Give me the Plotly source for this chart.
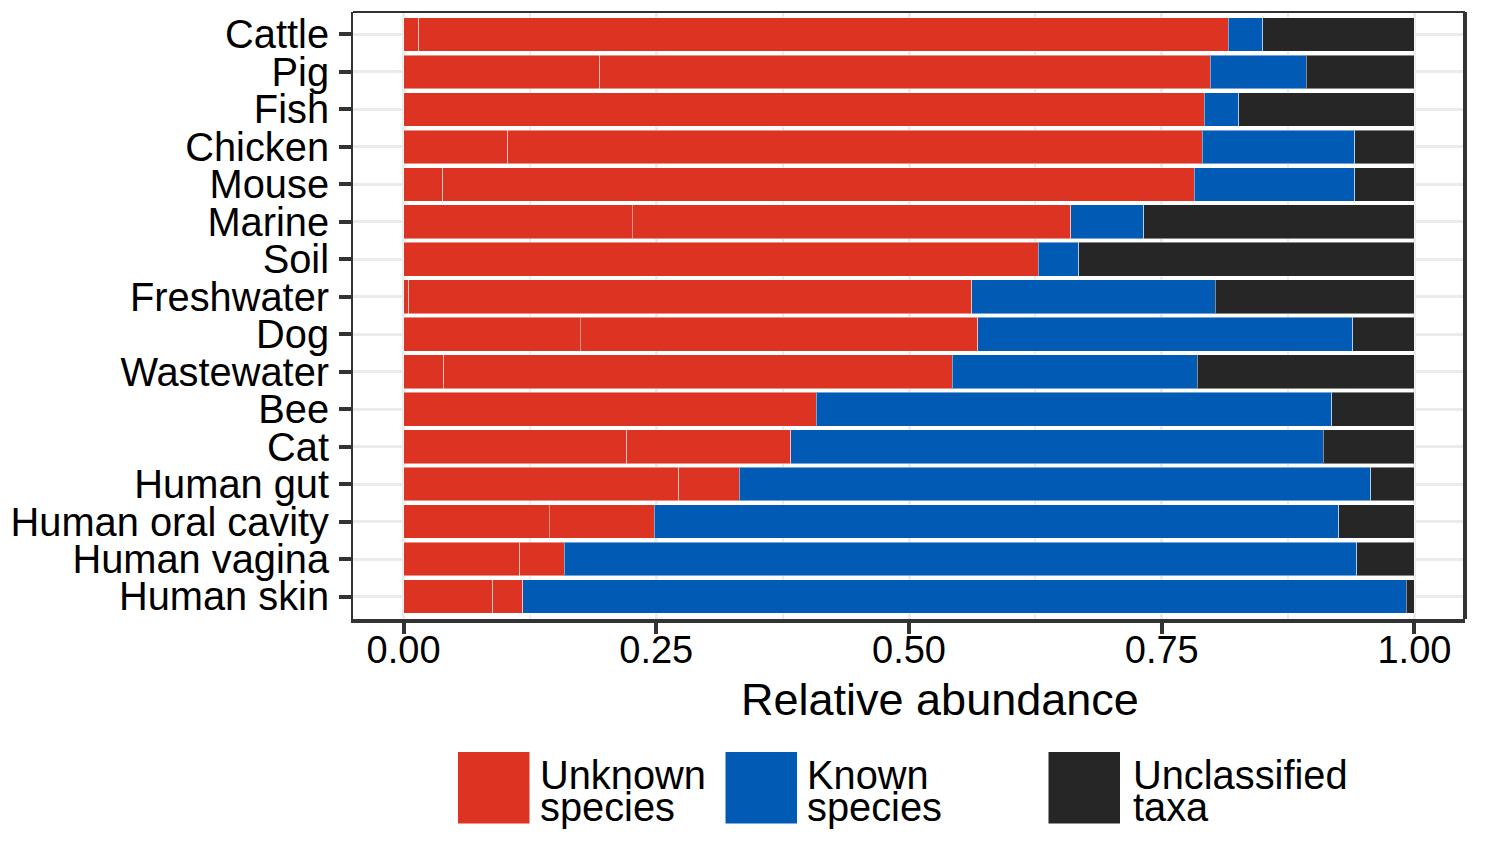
import plotly.graph_objects as go

# ---------------- data ----------------
categories = ["Cattle", "Pig", "Fish", "Chicken", "Mouse", "Marine", "Soil",
              "Freshwater", "Dog", "Wastewater", "Bee", "Cat", "Human gut",
              "Human oral cavity", "Human vagina", "Human skin"]

# Unknown species is shown as two red sub-segments
unknown_part1 = [0.015, 0.194, 0.000, 0.103, 0.039, 0.226, 0.000, 0.005,
                 0.175, 0.040, 0.000, 0.221, 0.272, 0.144, 0.115, 0.088]
unknown_part2 = [0.801, 0.604, 0.792, 0.687, 0.743, 0.434, 0.628, 0.557,
                 0.393, 0.503, 0.408, 0.162, 0.060, 0.104, 0.044, 0.030]
known = [0.034, 0.095, 0.034, 0.151, 0.159, 0.072, 0.040, 0.241,
         0.371, 0.242, 0.510, 0.527, 0.625, 0.677, 0.784, 0.874]
unclassified = [0.150, 0.107, 0.174, 0.059, 0.059, 0.268, 0.332, 0.197,
                0.061, 0.215, 0.082, 0.090, 0.043, 0.075, 0.057, 0.008]

x_ticks = [0.0, 0.25, 0.5, 0.75, 1.0]
x_tick_labels = ["0.00", "0.25", "0.50", "0.75", "1.00"]
x_title = "Relative abundance"
legend_labels = [["Unknown", "species"], ["Known", "species"], ["Unclassified", "taxa"]]

RED = "#DC3322"
BLUE = "#015BB5"
DARK = "#262626"
FONT = "Liberation Sans, Arial, Helvetica, sans-serif"

# ---------------- figure ----------------
fig = go.Figure()
outline = dict(color="rgba(255,255,255,0.45)", width=1)
for vals, col, name in [(unknown_part1, RED, "Unknown species"),
                        (unknown_part2, RED, "Unknown species"),
                        (known, BLUE, "Known species"),
                        (unclassified, DARK, "Unclassified taxa")]:
    fig.add_trace(go.Bar(y=categories, x=vals, orientation="h", name=name,
                         marker=dict(color=col, line=outline), width=0.9,
                         showlegend=False))

# The page body has an 8px margin: lay the figure out so that it fills
# the window from (8, 8) and target page pixels are converted accordingly.
OFF = 8
W, H = 1500 - OFF, 865 - OFF
L, R, T, B = 353 - OFF, 1465 - OFF, 12 - OFF, 619 - OFF
PW, PH = R - L, B - T


def px(p):
    return (p - OFF - L) / PW


def py(p):
    return (B - (p - OFF)) / PH


fig.update_layout(
    width=W, height=H,
    margin=dict(l=L, r=W - R, t=T, b=H - B, autoexpand=False),
    barmode="stack",
    bargap=0.1,
    plot_bgcolor="white",
    paper_bgcolor="white",
    font=dict(family=FONT, color="black"),
)

fig.update_xaxes(
    range=[-0.05, 1.05],
    tickmode="array", tickvals=x_ticks, ticktext=x_tick_labels,
    tickfont=dict(size=38, family=FONT, color="black"),
    ticks="outside", ticklen=11, tickwidth=4, tickcolor="#333333",
    ticklabelstandoff=-16,
    showgrid=True, gridcolor="#EBEBEB", gridwidth=3,
    minor=dict(dtick=0.125, tick0=0, showgrid=True, gridcolor="#EBEBEB", gridwidth=2, ticks=""),
    showline=True, linecolor="#333333", linewidth=3.5, mirror=False,
    zeroline=False, fixedrange=True, automargin=False,
)
fig.update_yaxes(
    type="category",
    categoryorder="array", categoryarray=categories[::-1],
    tickmode="array", tickvals=categories, ticktext=categories,
    range=[-0.6, len(categories) - 0.4],
    tickfont=dict(size=39.8, family=FONT, color="black"),
    ticks="outside", ticklen=12, tickwidth=4, tickcolor="#333333",
    ticklabelstandoff=2,
    showgrid=True, gridcolor="#EBEBEB", gridwidth=3,
    showline=True, linecolor="#333333", linewidth=2, mirror=False,
    zeroline=False, fixedrange=True, automargin=False,
)

shapes = []
# top and right border of panel
shapes.append(dict(type="line", xref="paper", yref="paper", x0=0, x1=1, y0=1, y1=1,
                   line=dict(color="#333333", width=2)))
shapes.append(dict(type="line", xref="paper", yref="paper", x0=1, x1=1, y0=0, y1=1,
                   line=dict(color="#333333", width=4)))

annotations = []
# x axis title
annotations.append(dict(text=x_title, xref="paper", yref="paper", x=px(939.5), y=py(699),
                        xanchor="center", yanchor="middle", showarrow=False,
                        font=dict(size=45, family=FONT, color="black")))

# legend (keys + two-line labels)
key_left = [458, 725.5, 1048.5]
text_left = [538, 805, 1131]
colors = [RED, BLUE, DARK]
for kl, tl, col, lines in zip(key_left, text_left, colors, legend_labels):
    shapes.append(dict(type="rect", xref="paper", yref="paper",
                       x0=px(kl), x1=px(kl + 71.5), y0=py(823.5), y1=py(752),
                       fillcolor=col, line=dict(width=0)))
    for line_txt, yc in zip(lines, [774.5, 806.5]):
        annotations.append(dict(text=line_txt, xref="paper", yref="paper",
                                x=px(tl), y=py(yc), xanchor="left", yanchor="middle",
                                showarrow=False,
                                font=dict(size=39.8, family=FONT, color="black")))

fig.update_layout(shapes=shapes, annotations=annotations)
fig.write_html("out.html")
